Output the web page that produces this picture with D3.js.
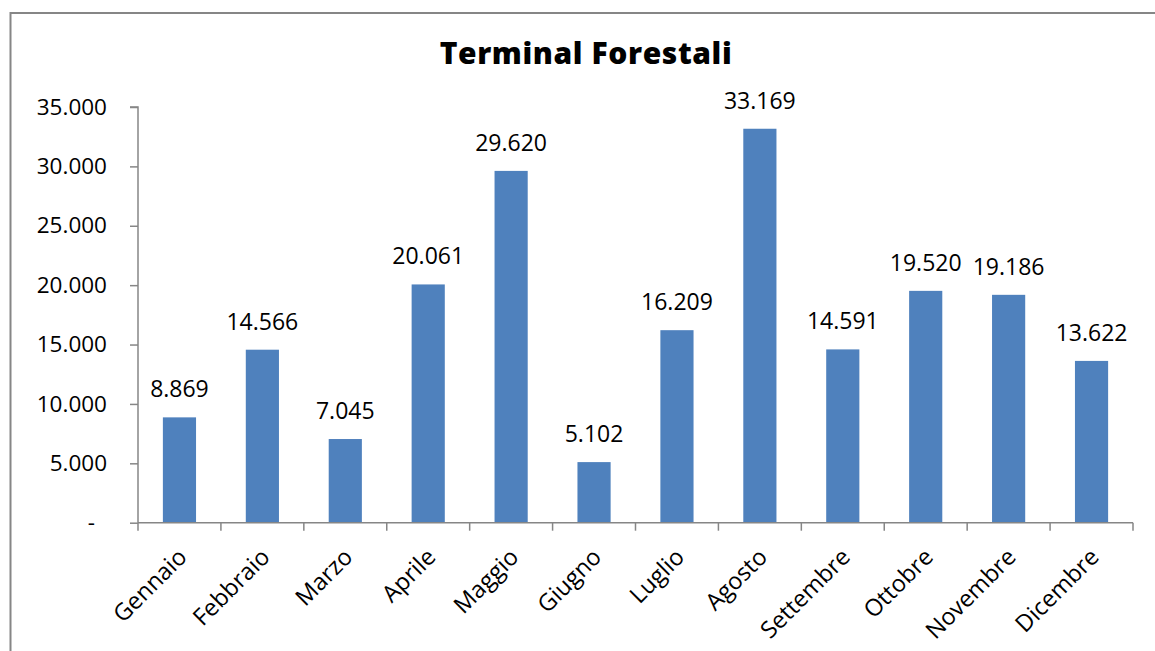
<!DOCTYPE html>
<html><head><meta charset="utf-8">
<script src="https://cdn.jsdelivr.net/npm/d3@7"></script>
<style>body{margin:0;background:#fff}svg{display:block}</style>
</head><body>
<svg id="c" width="1155" height="651"></svg>
<script>
const months = ["Gennaio","Febbraio","Marzo","Aprile","Maggio","Giugno","Luglio","Agosto","Settembre","Ottobre","Novembre","Dicembre"];
const values = [8869,14566,7045,20061,29620,5102,16209,33169,14591,19520,19186,13622];
const yTicks = [0,5000,10000,15000,20000,25000,30000,35000];
const title = "Terminal Forestali";

(function(){
const svg = d3.select("#c");
const font = "'Open Sans', sans-serif";
const fmt = v => v === 0 ? "-" : d3.format(",")(v).replace(/,/g, ".");

// outer border
svg.append("rect").attr("x",10.5).attr("y",13).attr("width",1160).attr("height",660)
  .attr("fill","none").attr("stroke","#868686").attr("stroke-width",2);

const pl = 138, pr = 1133, pt = 107, pb = 522.7;
const x = d3.scaleBand().domain(months).range([pl,pr]).paddingInner(0.6).paddingOuter(0.3);
const y = d3.scaleLinear().domain([0,35000]).range([pb,pt]);

svg.selectAll("rect.bar").data(values).join("rect").attr("class","bar")
  .attr("x",(d,i)=>x(months[i])).attr("width",x.bandwidth())
  .attr("y",d=>y(d)).attr("height",d=>y(0)-y(d)).attr("fill","#4F81BD");

// y axis
const ya = svg.append("g").attr("transform",`translate(${pl},0)`)
  .call(d3.axisLeft(y).tickValues(yTicks).tickFormat(fmt).tickSize(8).tickPadding(23));
ya.select(".domain").attr("stroke","#868686").attr("stroke-width",1.5).attr("d",`M-8,${pt}H0V${pb}`);
ya.selectAll(".tick line").attr("stroke","#868686").attr("stroke-width",1.5);
ya.selectAll(".tick text").attr("font-family",font).attr("font-size",22.5).attr("fill","#000")
  .attr("dx",d=>d===0?-12:0);

// x axis
const xa = svg.append("g").attr("transform",`translate(0,${pb})`);
xa.append("path").attr("d",`M${pl},0H${pr}`).attr("stroke","#868686").attr("stroke-width",1.5);
xa.selectAll("line.xt").data(d3.range(13)).join("line").attr("class","xt")
  .attr("x1",i=>pl+i*(pr-pl)/12).attr("x2",i=>pl+i*(pr-pl)/12)
  .attr("y1",0).attr("y2",8).attr("stroke","#868686").attr("stroke-width",1.5);
xa.selectAll("text").data(months).join("text")
  .attr("transform",d=>`translate(${x(d)+x.bandwidth()/2-3},24) rotate(-45)`)
  .attr("text-anchor","end").attr("dy","0.71em")
  .attr("font-family",font).attr("font-size",23.5).attr("fill","#000").text(d=>d);

// data labels
svg.selectAll("text.lbl").data(values).join("text").attr("class","lbl")
  .attr("x",(d,i)=>x(months[i])+x.bandwidth()/2).attr("y",d=>y(d)-20)
  .attr("text-anchor","middle").attr("font-family",font).attr("font-size",23).attr("fill","#000")
  .text(fmt);

svg.append("text").attr("x",586).attr("y",64).attr("text-anchor","middle")
  .attr("font-family","'Open Sans', sans-serif").attr("font-weight",800).attr("font-size",30)
  .attr("letter-spacing",0.6).attr("fill","#000")
  .text(title);
})();
</script>
</body></html>
